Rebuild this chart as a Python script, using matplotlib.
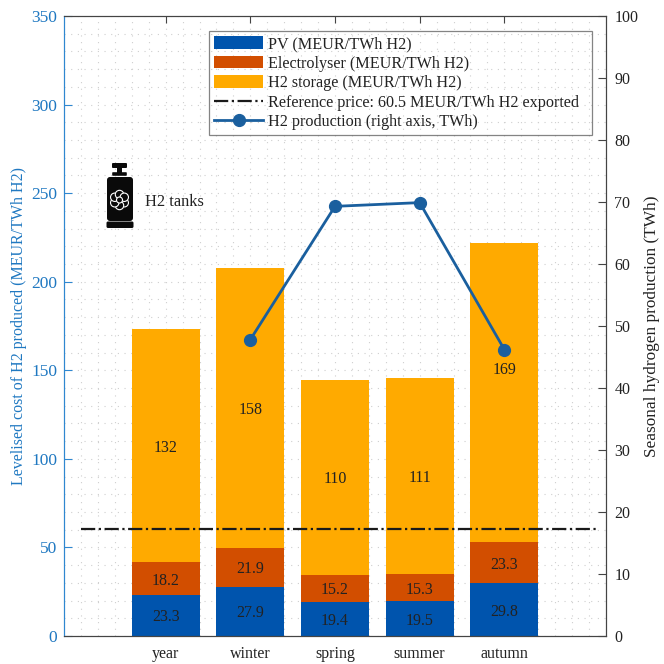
import numpy as np
import matplotlib
matplotlib.use('Agg')
import matplotlib.pyplot as plt
from matplotlib.patches import Circle, FancyBboxPatch, Rectangle
from matplotlib.ticker import MultipleLocator

plt.rcParams['font.family'] = ['Liberation Serif', 'DejaVu Serif']

## values
periods = ['year', 'winter', 'spring', 'summer', 'autumn']
pv = [23.3, 27.9, 19.4, 19.5, 29.8]
electrolyser = [18.2, 21.9, 15.2, 15.3, 23.3]
storage = [132, 158, 110, 111, 169]
storage_labels = ['132', '158', '110', '111', '169']
production_periods = [2, 3, 4, 5]
production = [47.8, 69.3, 69.9, 46.2]
ref_price = 60.5
ref_span = [0, 6.1]

blue = '#0054AD'
orange = '#D24E00'
yellow = '#FFAA00'
line_blue = '#1A5F9E'
axis_blue = '#2F87D0'
label_blue = '#1F78C1'
grey = '#444444'
text_col = '#222222'
fs = 11.5

W = 664.
fig = plt.figure(figsize=(6.64, 6.64), dpi=100, facecolor='w')
ax = fig.add_axes([64/W, (W-636)/W, 542/W, 620/W])
ax2 = ax.twinx()

x = np.arange(1, len(periods)+1)
pv = np.array(pv)
electrolyser = np.array(electrolyser)
storage = np.array(storage)
barwidth = 0.8

ax.set_axisbelow(True)
b1 = ax.bar(x, pv, width=barwidth, color=blue, label='PV (MEUR/TWh H2)')
b2 = ax.bar(x, electrolyser, width=barwidth, bottom=pv, color=orange, label='Electrolyser (MEUR/TWh H2)')
b3 = ax.bar(x, storage, width=barwidth, bottom=pv+electrolyser, color=yellow, label='H2 storage (MEUR/TWh H2)')
ref, = ax.plot(ref_span, [ref_price, ref_price], color='#1a1a1a', ls='-.', lw=1.6,
               label='Reference price: 60.5 MEUR/TWh H2 exported')


def seg_label(xpos, ypos, txt):
    ax.annotate(txt, (xpos, ypos), xytext=(0, -1.5), textcoords='offset points',
                ha='center', va='center', fontsize=fs, color=text_col)


## labels in the middle of each segment, the autumn storage one sits higher
for i in range(len(x)):
    seg_label(x[i], pv[i]/2, '%.1f' % pv[i])
    seg_label(x[i], pv[i]+electrolyser[i]/2, '%.1f' % electrolyser[i])
    mid = pv[i]+electrolyser[i]+storage[i]/2
    if periods[i] == 'autumn':
        mid = mid + 14
    seg_label(x[i], mid, storage_labels[i])

prod, = ax2.plot(production_periods, production, color=line_blue, lw=2, marker='o', ms=8.5,
                 label='H2 production (right axis, TWh)')

ax.set_xlim(-0.2, 6.2)
ax.set_ylim(0, 350)
ax2.set_ylim(0, 100)
ax.set_xticks(x)
ax.set_xticklabels(periods, fontsize=fs, color=text_col)
ax.set_yticks(np.arange(0, 351, 50))
ax2.set_yticks(np.arange(0, 101, 10))
ax.xaxis.set_minor_locator(MultipleLocator(0.2))
ax.yaxis.set_minor_locator(MultipleLocator(10))
ax.grid(which='both', color='#cfcfcf', ls=(0, (1, 5)), lw=0.8)

ax.tick_params(axis='x', which='major', direction='in', top=True, length=5, width=0.8, color=grey, pad=7)
ax.tick_params(axis='x', which='minor', length=0)
ax.tick_params(axis='y', which='major', direction='in', length=6, width=0.8, color=axis_blue,
               labelcolor=label_blue, labelsize=fs+1, pad=5)
ax.tick_params(axis='y', which='minor', length=0)
ax2.tick_params(axis='y', which='major', direction='in', length=6, width=0.8, color=grey,
                labelcolor=text_col, labelsize=fs, pad=6)

ax.spines['left'].set_color(axis_blue)
ax2.spines['left'].set_color(axis_blue)
for s in ['top', 'bottom', 'right']:
    ax.spines[s].set_color(grey)
    ax2.spines[s].set_color(grey)

ax.set_ylabel('Levelised cost of H2 produced (MEUR/TWh H2)', fontsize=fs, color=label_blue)
ax.yaxis.set_label_coords((27-64)/542, 0.5)
ax2.set_ylabel('Seasonal hydrogen production (TWh)', fontsize=fs+0.9, color=text_col)
ax2.yaxis.set_label_coords((644-64)/542, 0.5)

leg = ax2.legend(handles=[b1, b2, b3, ref, prod], loc='upper left', fontsize=11.6,
                 bbox_to_anchor=((209-64)/542, (636-130)/620, (592-209)/542, 99/620), mode='expand',
                 borderaxespad=0, borderpad=0.31,
                 handlelength=3.05, handleheight=0.85, handletextpad=0.31, labelspacing=0.22,
                 fancybox=False, edgecolor='#666666', facecolor='none', framealpha=None,
                 labelcolor=text_col)
leg.get_frame().set_linewidth(0.9)

## bottle icon on a pixel overlay
ov = fig.add_axes([0, 0, 1, 1], facecolor='none')
ov.set_xlim(0, W)
ov.set_ylim(W, 0)
ov.axis('off')
k = '#0a0a0a'
ov.add_patch(FancyBboxPatch((113, 164), 13, 3, boxstyle='round,pad=1', fc=k, ec='none'))
ov.add_patch(Rectangle((117, 168), 5, 6, fc=k, ec='none'))
ov.add_patch(FancyBboxPatch((113, 173), 13, 2, boxstyle='round,pad=0.8', fc=k, ec='none'))
ov.add_patch(FancyBboxPatch((110, 180), 20, 38, boxstyle='round,pad=3', fc=k, ec='none'))
ov.add_patch(FancyBboxPatch((108, 223), 24, 3.5, boxstyle='round,pad=1.5', fc=k, ec='none'))
for a in np.arange(0, 360, 60):
    cx = 119.5 + 5.5*np.cos(np.radians(a+30))
    cy = 200 + 5.5*np.sin(np.radians(a+30))
    ov.add_patch(Circle((cx, cy), 4.2, fc=k, ec='w', lw=0.8))
ov.add_patch(Circle((119.5, 200), 3, fc=k, ec='w', lw=0.8))
ov.text(145, 202, 'H2 tanks', fontsize=fs+0.3, color=text_col, ha='left', va='center')

fig.savefig('out.png', dpi=100)
